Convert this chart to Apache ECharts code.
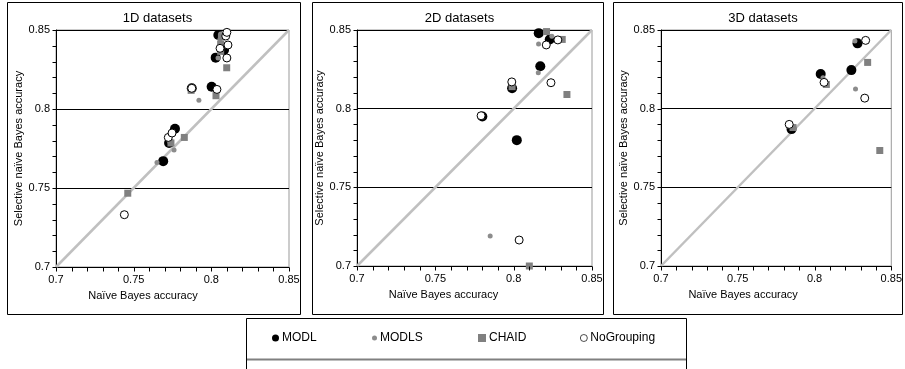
<!DOCTYPE html>
<html>
<head>
<meta charset="utf-8">
<script src="https://cdn.jsdelivr.net/npm/echarts@6/dist/echarts.min.js"></script>
<style>
  html, body { margin: 0; padding: 0; background: #fff; }
  #chart { width: 905px; height: 369px; }
</style>
</head>
<body>
<div id="chart"></div>
<script>
// tick values shared by both axes of every panel
const axisTicks = [0.7, 0.75, 0.8, 0.85];
const minorTicks = [0.7, 0.71, 0.72, 0.73, 0.74, 0.75, 0.76, 0.77, 0.78, 0.79, 0.8, 0.81, 0.82, 0.83, 0.84, 0.85];
const panelTitles = ['1D datasets', '2D datasets', '3D datasets'];
const methods = ['MODL', 'MODLS', 'CHAID', 'NoGrouping'];

// [naive Bayes accuracy, selective naive Bayes accuracy]
const modl1D = [[0.769, 0.767], [0.7766, 0.7875], [0.7728, 0.7785], [0.7874, 0.8131], [0.8002, 0.8141], [0.8028, 0.8325], [0.8045, 0.8468], [0.8082, 0.8373]];
const modls1D = [[0.765, 0.7662], [0.776, 0.774], [0.7734, 0.779], [0.792, 0.8055], [0.8043, 0.8323], [0.8055, 0.844], [0.806, 0.8475]];
const chaid1D = [[0.7462, 0.7467], [0.7826, 0.782], [0.787, 0.8118], [0.803, 0.8084], [0.8099, 0.8261], [0.806, 0.8365], [0.806, 0.841], [0.8065, 0.8455], [0.774, 0.7785]];
const noGroup1D = [[0.744, 0.7331], [0.7723, 0.782], [0.7747, 0.7848], [0.7874, 0.8131], [0.8036, 0.8124], [0.8056, 0.8384], [0.8107, 0.8405], [0.81, 0.8323], [0.8093, 0.8462], [0.81, 0.8485]];

const modl2D = [[0.816, 0.848], [0.823, 0.844], [0.817, 0.827], [0.799, 0.813], [0.78, 0.795], [0.802, 0.78]];
const modls2D = [[0.8159, 0.8411], [0.8157, 0.8228], [0.785, 0.719], [0.8244, 0.846], [0.799, 0.8145], [0.7795, 0.795]];
const chaid2D = [[0.821, 0.849], [0.831, 0.844], [0.834, 0.809], [0.81, 0.7], [0.799, 0.814]];
const noGroup2D = [[0.8208, 0.8405], [0.8282, 0.8437], [0.8238, 0.8165], [0.7988, 0.817], [0.7792, 0.7955], [0.8035, 0.7165]];

const modl3D = [[0.804, 0.822], [0.828, 0.8415], [0.824, 0.8245], [0.785, 0.787]];
const modls3D = [[0.8263, 0.843], [0.8267, 0.8125], [0.8055, 0.8197], [0.786, 0.788]];
const chaid3D = [[0.8346, 0.8294], [0.8425, 0.7734], [0.8077, 0.8154], [0.786, 0.788]];
const noGroup3D = [[0.8333, 0.8434], [0.8327, 0.8067], [0.8062, 0.8167], [0.7835, 0.79]];

const panelData = [
  [modl1D, modls1D, chaid1D, noGroup1D],
  [modl2D, modls2D, chaid2D, noGroup2D],
  [modl3D, modls3D, chaid3D, noGroup3D]
];

const FONT = '"Liberation Sans", Arial, sans-serif';
const axMin = axisTicks[0];
const axMax = axisTicks[axisTicks.length - 1];
const axStep = axisTicks[1] - axisTicks[0];
const TICK_LEN = 4;

// layout of the three panels
const grids = [
  {left: 56, top: 30, width: 233, height: 237},
  {left: 357, top: 30, width: 235, height: 236},
  {left: 661, top: 30, width: 234, height: 236}
];
const boxes = [[7, 300], [312, 603], [613, 902]];
const yNameGap = [31, 29, 26];
const xNameShift = [59, 62, 66];

const markerStyle = {
  MODL: {symbol: 'circle', size: 10, itemStyle: {color: '#000', opacity: 1}},
  MODLS: {symbol: 'circle', size: 5, itemStyle: {color: '#8c8c8c', opacity: 1}},
  CHAID: {symbol: 'rect', size: 7, itemStyle: {color: '#808080', opacity: 1}},
  NoGrouping: {symbol: 'circle', size: 8, itemStyle: {color: '#fff', borderColor: '#000', borderWidth: 1, opacity: 1}}
};

const fmt = v => String(+v.toFixed(2));

const xAxes = grids.map((g, i) => ({
  type: 'value', gridIndex: i, min: axMin, max: axMax, interval: axStep,
  name: 'Naïve Bayes accuracy', nameLocation: 'middle', nameGap: 23,
  nameTextStyle: {fontFamily: FONT, fontSize: 11, color: '#000', padding: [0, xNameShift[i], 0, 0]},
  axisLine: {show: true, lineStyle: {color: '#000', width: 1}},
  axisTick: {show: false},
  axisLabel: {fontFamily: FONT, fontSize: 11, color: '#000', margin: 7, formatter: fmt},
  splitLine: {show: false}
}));

const yAxes = grids.map((g, i) => ({
  type: 'value', gridIndex: i, min: axMin, max: axMax, interval: axStep,
  name: 'Selective naïve Bayes accuracy', nameLocation: 'middle', nameGap: yNameGap[i],
  nameTextStyle: {fontFamily: FONT, fontSize: 11, color: '#000'},
  axisLine: {show: true, lineStyle: {color: '#000', width: 1}},
  axisTick: {show: false},
  axisLabel: {fontFamily: FONT, fontSize: 11, color: '#000', margin: 6, formatter: fmt},
  splitLine: {show: true, lineStyle: {color: '#000', width: 1}}
}));

// outward ticks on both axes, placed through the axis scales
function renderTicks(params, api) {
  const v = api.value(0);
  const px = api.coord([v, axMin]);
  const py = api.coord([axMin, v]);
  const st = {stroke: '#000', lineWidth: 1};
  const xx = Math.round(px[0]) + 0.5;
  const yy = Math.round(py[1]) + 0.5;
  const bx = Math.round(px[1]) + 0.5;
  const ly = Math.round(py[0]) + 0.5;
  return {
    type: 'group',
    children: [
      {type: 'line', shape: {x1: xx, y1: bx, x2: xx, y2: bx + TICK_LEN}, style: st},
      {type: 'line', shape: {x1: ly, y1: yy, x2: ly - TICK_LEN, y2: yy}, style: st}
    ]
  };
}

const series = [];
panelData.forEach((sets, i) => {
  series.push({
    type: 'line', xAxisIndex: i, yAxisIndex: i, silent: true, symbol: 'none',
    data: [[axMin, axMin], [axMax, axMax]],
    lineStyle: {color: '#c0c0c0', width: 2.5}, z: 1
  });
  series.push({
    type: 'custom', xAxisIndex: i, yAxisIndex: i, silent: true, clip: false,
    data: minorTicks.map(v => [v]), renderItem: renderTicks, z: 10
  });
  sets.forEach((pts, k) => {
    const m = markerStyle[methods[k]];
    series.push({
      type: 'scatter', name: methods[k], xAxisIndex: i, yAxisIndex: i,
      data: pts, symbol: m.symbol, symbolSize: m.size, itemStyle: m.itemStyle, z: 2 + k
    });
  });
});

const legendPos = [272, 372, 478, 580];
const legendIcon = [7, 5, 8, 7];
const legends = methods.map((name, k) => ({
  data: [{
    name, icon: markerStyle[name].symbol === 'rect' ? 'rect' : 'circle',
    itemStyle: name === 'NoGrouping' ? {color: '#fff', borderColor: '#000', borderWidth: 0.7} : undefined
  }],
  left: legendPos[k], top: 332, itemWidth: legendIcon[k], itemHeight: legendIcon[k],
  itemGap: 0, padding: 0, selectedMode: false,
  textStyle: {fontFamily: FONT, fontSize: 12, color: '#000', padding: [0, 0, 0, -2]}
}));

const graphics = boxes.map(b => ({
  type: 'rect', shape: {x: b[0] + 0.5, y: 2.5, width: b[1] - b[0], height: 312},
  style: {fill: 'none', stroke: '#000', lineWidth: 1}, z: 0, silent: true
}));
graphics.push({
  type: 'rect', shape: {x: 246.5, y: 318.5, width: 440, height: 70},
  style: {fill: 'none', stroke: '#000', lineWidth: 1}, silent: true
});
graphics.push({
  type: 'line', shape: {x1: 247, y1: 359.5, x2: 686, y2: 359.5},
  style: {stroke: '#808080', lineWidth: 2}, silent: true
});

const chart = echarts.init(document.getElementById('chart'), null, {renderer: 'canvas'});
chart.setOption({
  animation: false,
  backgroundColor: '#fff',
  title: panelTitles.map((t, i) => ({
    text: t, left: grids[i].left + grids[i].width / 2 - 20, top: 7, textAlign: 'center',
    textStyle: {fontFamily: FONT, fontSize: 13, fontWeight: 'normal', color: '#000'}
  })),
  grid: grids.map(g => ({...g, show: true, borderColor: '#999', borderWidth: 1, backgroundColor: 'transparent'})),
  xAxis: xAxes,
  yAxis: yAxes,
  legend: legends,
  graphic: graphics,
  series
});
</script>
</body>
</html>
